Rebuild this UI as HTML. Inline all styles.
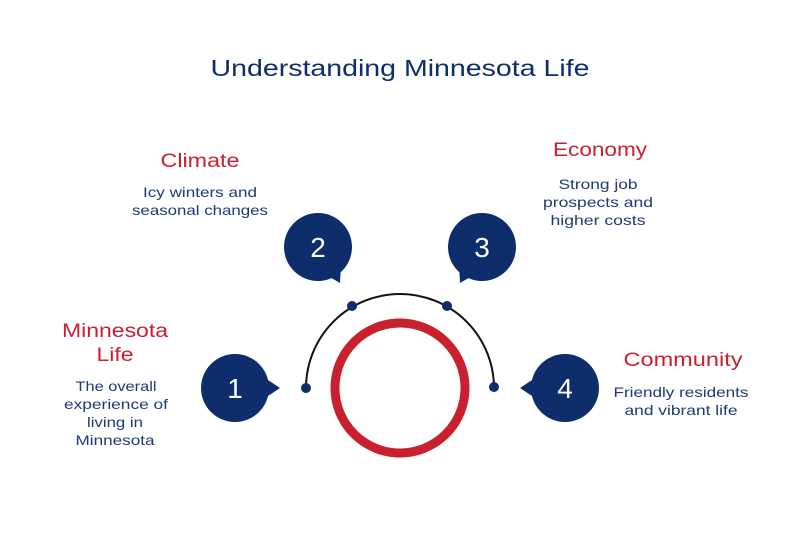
<!DOCTYPE html>
<html><head><meta charset="utf-8"><style>
html,body{margin:0;padding:0;background:#fff;}
svg{display:block;font-family:"Liberation Sans",sans-serif;}
.h{fill:#c8202f;font-size:19px;text-anchor:middle;}
.d{fill:#1f3b73;font-size:14px;text-anchor:middle;}
.n{fill:#fff;font-size:28px;text-anchor:middle;}
</style></head><body>
<svg width="800" height="553" viewBox="0 0 800 553">
<text x="400" y="76" text-anchor="middle" font-size="23" fill="#0d2d6b" textLength="379" lengthAdjust="spacingAndGlyphs">Understanding Minnesota Life</text>

<text class="h" x="200" y="167" textLength="79" lengthAdjust="spacingAndGlyphs">Climate</text>
<text class="d" x="200" y="197" textLength="114" lengthAdjust="spacingAndGlyphs">Icy winters and</text>
<text class="d" x="200" y="215" textLength="136" lengthAdjust="spacingAndGlyphs">seasonal changes</text>

<text class="h" x="600" y="156" textLength="94" lengthAdjust="spacingAndGlyphs">Economy</text>
<text class="d" x="598" y="189" textLength="79" lengthAdjust="spacingAndGlyphs">Strong job</text>
<text class="d" x="598" y="207" textLength="110" lengthAdjust="spacingAndGlyphs">prospects and</text>
<text class="d" x="598" y="225" textLength="95" lengthAdjust="spacingAndGlyphs">higher costs</text>

<text class="h" x="115" y="337" textLength="106" lengthAdjust="spacingAndGlyphs">Minnesota</text>
<text class="h" x="115" y="361" textLength="37" lengthAdjust="spacingAndGlyphs">Life</text>
<text class="d" x="116" y="391" textLength="81" lengthAdjust="spacingAndGlyphs">The overall</text>
<text class="d" x="116" y="409" textLength="104" lengthAdjust="spacingAndGlyphs">experience of</text>
<text class="d" x="115" y="427" textLength="56" lengthAdjust="spacingAndGlyphs">living in</text>
<text class="d" x="115" y="445" textLength="79" lengthAdjust="spacingAndGlyphs">Minnesota</text>

<text class="h" x="683" y="366" textLength="119" lengthAdjust="spacingAndGlyphs">Community</text>
<text class="d" x="681" y="397" textLength="135" lengthAdjust="spacingAndGlyphs">Friendly residents</text>
<text class="d" x="681" y="415" textLength="113" lengthAdjust="spacingAndGlyphs">and vibrant life</text>

<path d="M306 388 A94 94 0 0 1 494 388" fill="none" stroke="#111" stroke-width="2"/>
<circle cx="400" cy="388" r="65" fill="none" stroke="#c8202f" stroke-width="9"/>
<g fill="#0d2d6b">
<circle cx="306" cy="388" r="5"/>
<circle cx="352" cy="306" r="5"/>
<circle cx="447" cy="306" r="5"/>
<circle cx="494" cy="387" r="5"/>

<circle cx="235" cy="388" r="34"/>
<polygon points="265,378 280,388 265,398"/>
<circle cx="318" cy="247" r="34"/>
<polygon points="328,276 340,283 341,265"/>
<circle cx="482" cy="247" r="34"/>
<polygon points="472,276 460,283 459,265"/>
<circle cx="565" cy="388" r="34"/>
<polygon points="535,378 520,388 535,398"/>
</g>
<text class="n" x="235" y="398">1</text>
<text class="n" x="318" y="257">2</text>
<text class="n" x="482" y="257">3</text>
<text class="n" x="565" y="398">4</text>
</svg>
</body></html>
